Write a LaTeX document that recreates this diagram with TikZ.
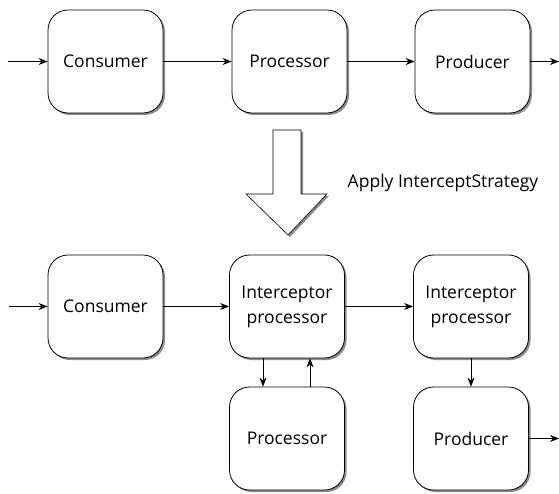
\documentclass[tikz,border=0pt]{standalone}
\usepackage{fontspec}
\setmainfont{Open Sans}
\usetikzlibrary{arrows.meta,shadows}

\tikzset{
  block/.style={draw,rounded corners=20pt,fill=white,minimum width=115pt,minimum height=103pt,
    align=center,drop shadow={shadow xshift=2pt,shadow yshift=-2pt,fill=black!50,opacity=0.9}},
  link/.style={-{Stealth[length=9pt,width=7pt]}}
}

\begin{document}
\begin{tikzpicture}[x=1pt,y=-1pt,font=\fontsize{17.5}{25}\selectfont,line width=0.8pt]
\useasboundingbox (0,0) rectangle (559,494);
% plain route
\node[block] (cons) at (105.5,61.5) {Consumer};
\node[block] (proc) at (289.5,61.5) {Processor};
\node[block] (prod) at (472.5,61.5) {Producer};
\coordinate (in1) at (8,61.5);
\coordinate (out1) at (559,61.5);
\draw[link] (in1) -- (cons);
\draw[link] (cons) -- (proc);
\draw[link] (proc) -- (prod);
\draw[link] (prod) -- (out1);
% strategy arrow
\draw[fill=white,line width=0.6pt,drop shadow={shadow xshift=2pt,shadow yshift=-2pt,fill=black!50,opacity=0.9}]
  (273,130) -- (301,130) -- (301,194) -- (327,194) -- (288,235) -- (246,194) -- (273,194) -- cycle;
\node[anchor=west] (apply) at (344,183) {Apply InterceptStrategy};
% intercepted route
\node[block] (cons2) at (105.5,306.5) {Consumer};
\node[block] (icp1) at (287,306.5) {Interceptor\\processor};
\node[block] (icp2) at (471,306.5) {Interceptor\\processor};
\node[block] (proc2) at (287,438.5) {Processor};
\node[block] (prod2) at (471,438.5) {Producer};
\coordinate (in2) at (9,306.5);
\coordinate (out2) at (559,438.5);
\draw[link] (in2) -- (cons2);
\draw[link] (cons2) -- (icp1);
\draw[link] (icp1) -- (icp2);
\draw[link] ([xshift=-24pt]icp1.south) -- ([xshift=-24pt]proc2.north);
\draw[link] ([xshift=23pt]proc2.north) -- ([xshift=23pt]icp1.south);
\draw[link] (icp2) -- (prod2);
\draw[link] (prod2) -- (out2);
\end{tikzpicture}
\end{document}
